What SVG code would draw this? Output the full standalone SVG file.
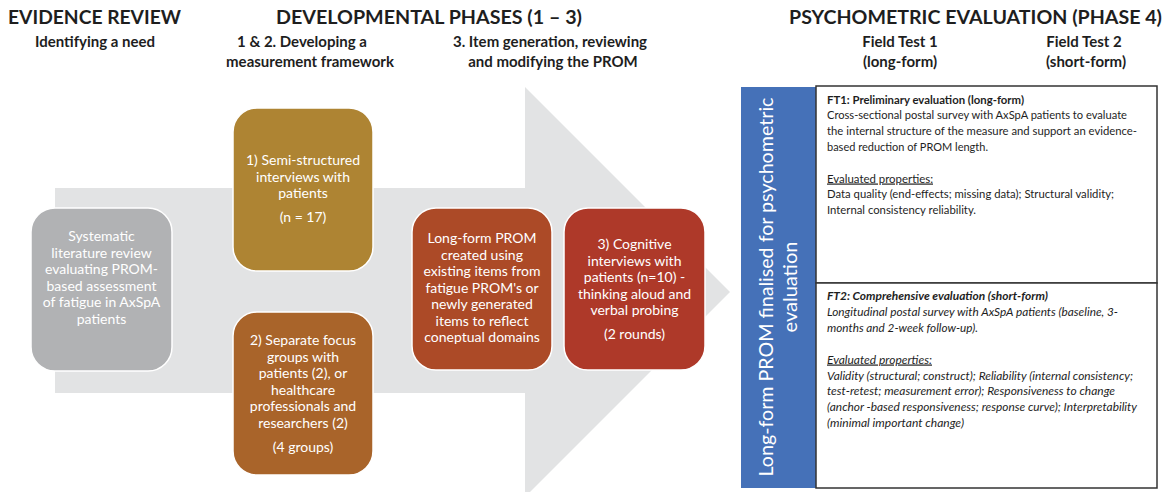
<svg xmlns="http://www.w3.org/2000/svg" width="1168" height="492" viewBox="0 0 1168 492">
<style>
.h1{font-family:Lato,"Liberation Sans",sans-serif;font-weight:bold;font-size:19.5px;fill:#1e1e1e}
.h2{font-family:Lato,"Liberation Sans",sans-serif;font-weight:bold;font-size:15px;fill:#1e1e1e;text-anchor:middle}
.nt{font-family:Lato,"Liberation Sans",sans-serif;font-size:14px;fill:#ffffff;text-anchor:middle}
.node{stroke:#ffffff;stroke-width:1.5}
.bt{font-family:Lato,"Liberation Sans",sans-serif;font-size:11.8px;fill:#1e1e1e}
.vt{font-family:Lato,"Liberation Sans",sans-serif;font-size:20px;fill:#ffffff;text-anchor:middle}
</style>
<rect width="1168" height="492" fill="#ffffff"/>
<g id="headers">
<text class="h1" x="8" y="24" textLength="173" lengthAdjust="spacingAndGlyphs">EVIDENCE REVIEW</text>
<text class="h1" x="276" y="24" textLength="306" lengthAdjust="spacingAndGlyphs">DEVELOPMENTAL PHASES (1 – 3)</text>
<text class="h1" x="789" y="24" textLength="373" lengthAdjust="spacingAndGlyphs">PSYCHOMETRIC EVALUATION (PHASE 4)</text>
<text class="h2" x="95" y="47">Identifying a need</text>
<text class="h2" x="302" y="47">1 &amp; 2. Developing a</text>
<text class="h2" x="310" y="67">measurement framework</text>
<text class="h2" x="550" y="47">3. Item generation, reviewing</text>
<text class="h2" x="553" y="67">and modifying the PROM</text>
<text class="h2" x="900" y="47">Field Test 1</text>
<text class="h2" x="900" y="67">(long-form)</text>
<text class="h2" x="1084" y="47">Field Test 2</text>
<text class="h2" x="1086" y="67">(short-form)</text>
</g>
<g id="connectors">
<polygon points="55,188 525,188 525,87 730,292 525,497 525,393 55,393" fill="#e2e3e4"/>
</g>
<g id="node-review">
<rect class="node" x="31" y="208" width="141" height="163" rx="24" fill="#b1b2b4"/>
<text class="nt" x="101.5" y="241">Systematic</text>
<text class="nt" x="101.5" y="257.5">literature review</text>
<text class="nt" x="101.5" y="274">evaluating PROM-</text>
<text class="nt" x="101.5" y="290.5">based assessment</text>
<text class="nt" x="101.5" y="307">of fatigue in AxSpA</text>
<text class="nt" x="101.5" y="323.5">patients</text>
</g>
<g id="node-interviews">
<rect class="node" x="233" y="108" width="140" height="163" rx="24" fill="#ae8433"/>
<text class="nt" x="303" y="165">1) Semi-structured</text>
<text class="nt" x="303" y="181.5">interviews with</text>
<text class="nt" x="303" y="198">patients</text>
<text class="nt" x="303" y="222">(n = 17)</text>
</g>
<g id="node-focus">
<rect class="node" x="233" y="312" width="140" height="163" rx="24" fill="#a9642a"/>
<text class="nt" x="303" y="345">2) Separate focus</text>
<text class="nt" x="303" y="361.5">groups with</text>
<text class="nt" x="303" y="378">patients (2), or</text>
<text class="nt" x="303" y="394.5">healthcare</text>
<text class="nt" x="303" y="411">professionals and</text>
<text class="nt" x="303" y="427.5">researchers (2)</text>
<text class="nt" x="303" y="451.5">(4 groups)</text>
</g>
<g id="node-longform">
<rect class="node" x="412" y="208" width="140" height="162" rx="24" fill="#ac4a27"/>
<text class="nt" x="482" y="243">Long-form PROM</text>
<text class="nt" x="482" y="259.5">created using</text>
<text class="nt" x="482" y="276">existing items from</text>
<text class="nt" x="482" y="292.5">fatigue PROM's or</text>
<text class="nt" x="482" y="309">newly generated</text>
<text class="nt" x="482" y="325.5">items to reflect</text>
<text class="nt" x="482" y="342">coneptual domains</text>
</g>
<g id="node-cognitive">
<rect class="node" x="564" y="208" width="141" height="162" rx="24" fill="#ae3929"/>
<text class="nt" x="634.5" y="249">3) Cognitive</text>
<text class="nt" x="634.5" y="265.5">interviews with</text>
<text class="nt" x="634.5" y="282">patients (n=10) -</text>
<text class="nt" x="634.5" y="298.5">thinking aloud and</text>
<text class="nt" x="634.5" y="315">verbal probing</text>
<text class="nt" x="634.5" y="338.5">(2 rounds)</text>
</g>
<g id="node-finalised">
<rect x="741" y="87" width="75" height="401" fill="#4571b8"/>
<text class="vt" transform="rotate(-90)" x="-287" y="773" textLength="379" lengthAdjust="spacingAndGlyphs">Long-form PROM finalised for psychometric</text>
<text class="vt" transform="rotate(-90)" x="-287" y="797">evaluation</text>
</g>
<g id="node-ft1">
<rect x="816" y="86" width="341" height="197" fill="#ffffff" stroke="#333333" stroke-width="1.5"/>
<text class="bt" x="827" y="103.5" font-weight="bold" textLength="197" lengthAdjust="spacingAndGlyphs">FT1: Preliminary evaluation (long-form)</text>
<text class="bt" x="827" y="119" textLength="300" lengthAdjust="spacingAndGlyphs">Cross-sectional postal survey with AxSpA patients to evaluate</text>
<text class="bt" x="827" y="135" textLength="310" lengthAdjust="spacingAndGlyphs">the internal structure of the measure and support an evidence-</text>
<text class="bt" x="827" y="150.5" textLength="161" lengthAdjust="spacingAndGlyphs">based reduction of PROM length.</text>
<text class="bt" x="827" y="182.5" text-decoration="underline" textLength="106" lengthAdjust="spacingAndGlyphs">Evaluated properties:</text>
<text class="bt" x="827" y="198" textLength="287" lengthAdjust="spacingAndGlyphs">Data quality (end-effects; missing data); Structural validity;</text>
<text class="bt" x="827" y="213.5" textLength="149" lengthAdjust="spacingAndGlyphs">Internal consistency reliability.</text>
</g>
<g id="node-ft2">
<rect x="816" y="283" width="341" height="205" fill="#ffffff" stroke="#333333" stroke-width="1.5"/>
<text class="bt" x="827" y="300" font-weight="bold" font-style="italic" textLength="221" lengthAdjust="spacingAndGlyphs">FT2: Comprehensive evaluation (short-form)</text>
<text class="bt" x="827" y="316" font-style="italic" textLength="291" lengthAdjust="spacingAndGlyphs">Longitudinal postal survey with AxSpA patients (baseline, 3-</text>
<text class="bt" x="827" y="331.5" font-style="italic" textLength="151" lengthAdjust="spacingAndGlyphs">months and 2-week follow-up).</text>
<text class="bt" x="827" y="363.5" font-style="italic" text-decoration="underline" textLength="105" lengthAdjust="spacingAndGlyphs">Evaluated properties:</text>
<text class="bt" x="827" y="379.5" font-style="italic" textLength="306" lengthAdjust="spacingAndGlyphs">Validity (structural; construct); Reliability (internal consistency;</text>
<text class="bt" x="827" y="395" font-style="italic" textLength="288" lengthAdjust="spacingAndGlyphs">test-retest; measurement error); Responsiveness to change</text>
<text class="bt" x="827" y="411" font-style="italic" textLength="310" lengthAdjust="spacingAndGlyphs">(anchor -based responsiveness; response curve); Interpretability</text>
<text class="bt" x="827" y="427" font-style="italic" textLength="137" lengthAdjust="spacingAndGlyphs">(minimal important change)</text>
</g>
</svg>
